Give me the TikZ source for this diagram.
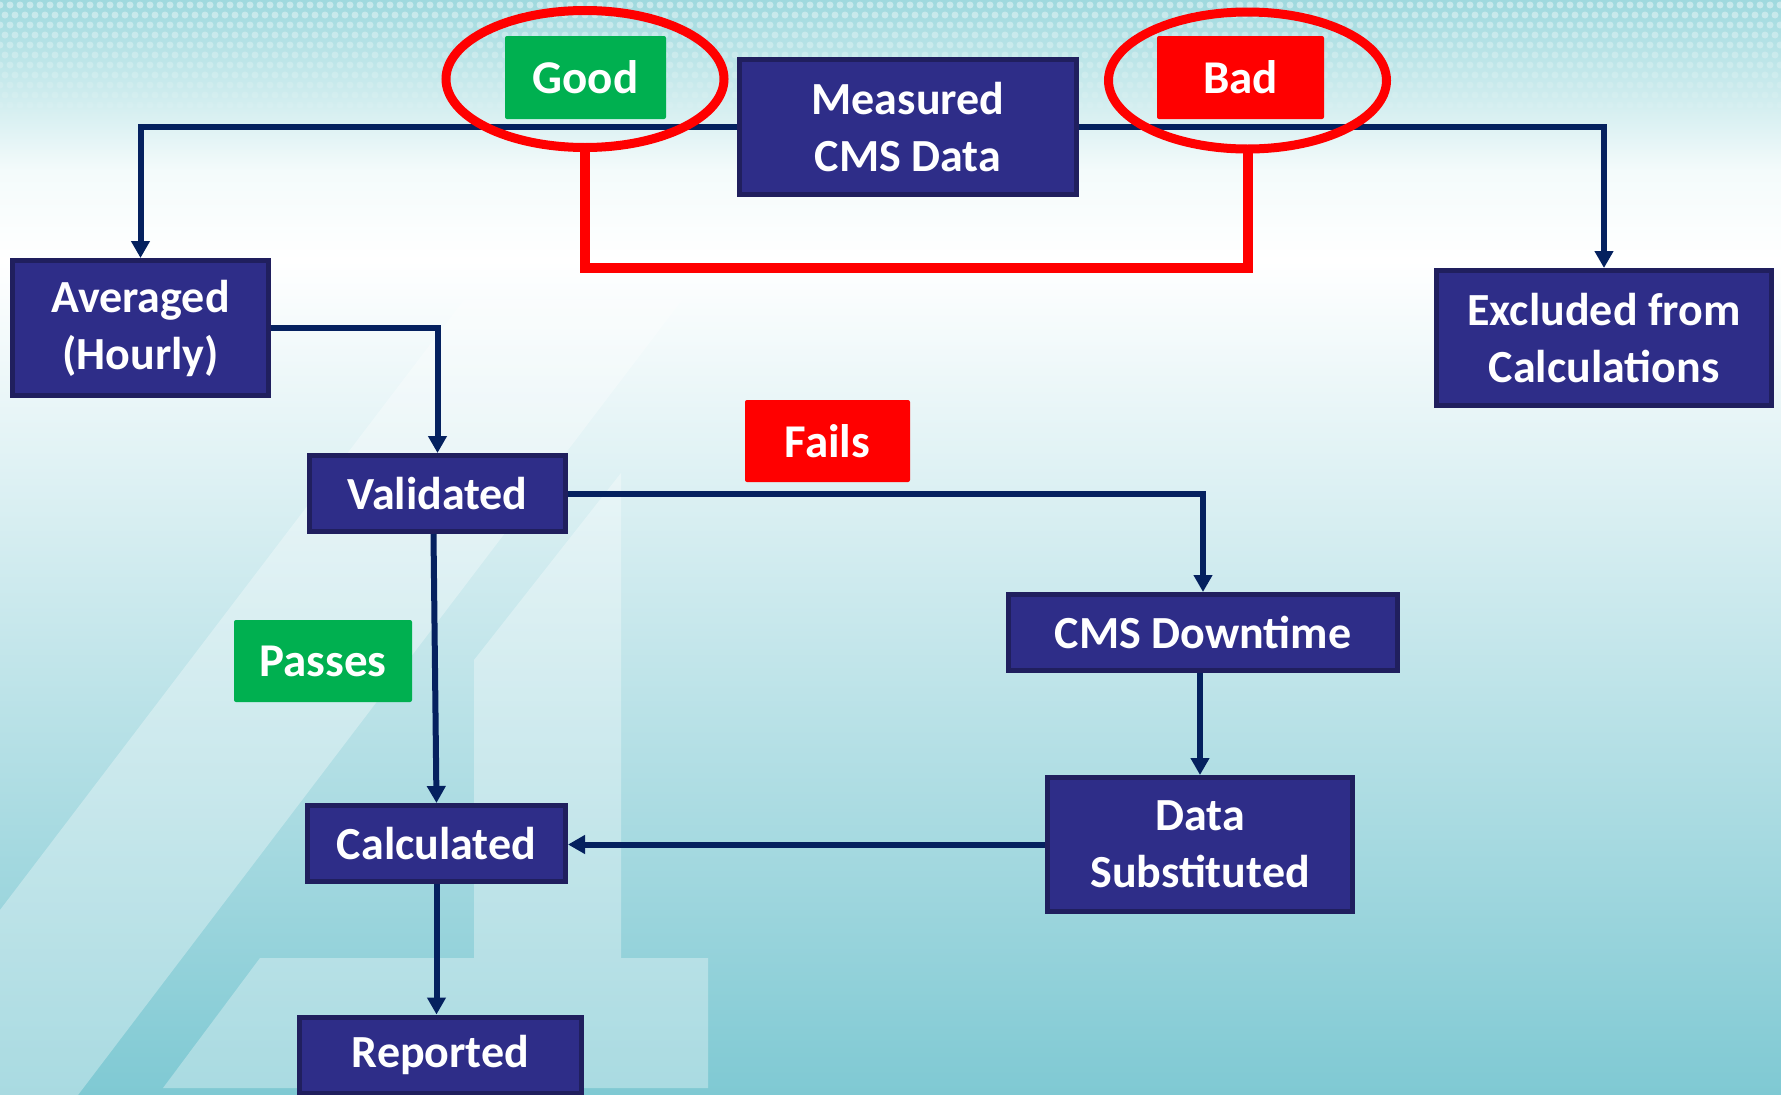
\documentclass[tikz,border=0pt]{standalone}
\usepackage{fontspec}
\setmainfont{Carlito}
\usetikzlibrary{arrows.meta,shapes.geometric,calc}

\definecolor{boxfill}{HTML}{2E2D88}
\definecolor{boxedge}{HTML}{201F5E}
\definecolor{flow}{HTML}{05215F}
\definecolor{okgreen}{HTML}{00B050}
\definecolor{badred}{HTML}{FF0000}
\definecolor{bgtop}{HTML}{9FD9DE}
\definecolor{bgpale}{HTML}{F4FBFB}
\definecolor{bgmid}{HTML}{B4E3E5}
\definecolor{bgbottom}{HTML}{7FC9D3}

\tikzset{
  stage/.style={draw=boxedge, line width=5pt, fill=boxfill, text=white,
    font=\bfseries\fontsize{46}{57}\selectfont, align=center, inner sep=0pt},
  tag/.style={fill=#1, text=white, font=\bfseries\fontsize{47}{57}\selectfont,
    rounded corners=2pt, inner sep=0pt},
  flowline/.style={draw=flow, line width=6pt, -{Triangle[length=17pt,width=18pt]}},
  ring/.style={ellipse, draw=badred, line width=9pt, minimum width=278pt,
    minimum height=137pt, inner sep=0pt, outer sep=0pt},
  redlink/.style={draw=badred, line width=10pt},
  glyph/.style={fill=white, opacity=0.33},
}

\begin{document}
\begin{tikzpicture}[x=1pt, y=-1pt]
  \path[use as bounding box] (0,0) rectangle (1781,1095);
  \clip (0,0) rectangle (1781,1095);

  % background gradient
  \shade[top color=bgtop, bottom color=bgpale] (0,0) rectangle (1781,171);
  \shade[top color=bgpale, bottom color=white] (0,170) rectangle (1781,261);
  \shade[top color=white, middle color=bgmid, bottom color=bgbottom] (0,260) rectangle (1781,1095);

  % halftone dots along the top edge
  \foreach \r in {0,...,11} {
    \pgfmathsetmacro\dotop{0.42*(1-\r/12)}
    \foreach \c in {0,...,178} {
      \fill[white, opacity=\dotop] ({\c*10+5*mod(\r,2)}, {5+\r*10}) circle (3.5);
    }
  }

  % large faint numeral in the background
  \fill[glyph] (0,910) -- (464,300) -- (682,300) -- (78,1095) -- (0,1095) -- cycle;
  \fill[glyph] (474,660) -- (621,473) -- (621,958) -- (708,958) -- (708,1088)
    -- (163,1088) -- (260,958) -- (474,958) -- cycle;

  % process stages
  \node[stage, minimum width=337pt, minimum height=135pt] (meas)  at (908,127)    {Measured\\CMS Data};
  \node[stage, minimum width=256pt, minimum height=135pt] (avg)   at (140.5,328)  {Averaged\\(Hourly)};
  \node[stage, minimum width=335pt, minimum height=135pt] (excl)  at (1604,338)   {Excluded from\\Calculations};
  \node[stage, minimum width=256pt, minimum height=76pt]  (val)   at (437.5,493.5){Validated};
  \node[stage, minimum width=389pt, minimum height=76pt]  (down)  at (1203,632.5) {CMS Downtime};
  \node[stage, minimum width=305pt, minimum height=134pt] (subst) at (1200,844.5) {Data\\Substituted};
  \node[stage, minimum width=258pt, minimum height=76pt]  (calcd) at (436.5,843.5){Calculated};
  \node[stage, minimum width=282pt, minimum height=76pt]  (rep)   at (440.5,1055) {Reported};

  % connectors
  \draw[flowline] (meas.west) -| (avg.north);
  \draw[flowline] (meas.east) -| (excl.north);
  \draw[flowline] (avg.east) -| (val.north);
  \draw[flowline] (val.east) -| (down.north);
  \draw[flowline] ($(val.south)+(-4,0)$) -- (calcd.north);
  \draw[flowline] (down.south -| subst.north) -- (subst.north);
  \draw[flowline] (subst.west) -- (subst.west -| calcd.east);
  \draw[flowline] (calcd.south) -- (calcd.south |- rep.north);

  % outcome tags
  \node[tag=okgreen, minimum width=161pt, minimum height=83pt] (good)   at (585.5,77.5) {Good};
  \node[tag=badred,  minimum width=167pt, minimum height=83pt] (bad)    at (1240.5,77.5){Bad};
  \node[tag=badred,  minimum width=165pt, minimum height=82pt] (fails)  at (827.5,441)  {Fails};
  \node[tag=okgreen, minimum width=178pt, minimum height=82pt] (passes) at (323,661)    {Passes};

  % red rings joined underneath
  \node[ring] (goodring) at (585,79) {};
  \node[ring] (badring)  at (1247.5,80.5) {};
  \coordinate (redbase) at (0,268);
  \draw[redlink] (goodring.south) -- (goodring.south |- redbase) -| (badring.south);
\end{tikzpicture}
\end{document}
